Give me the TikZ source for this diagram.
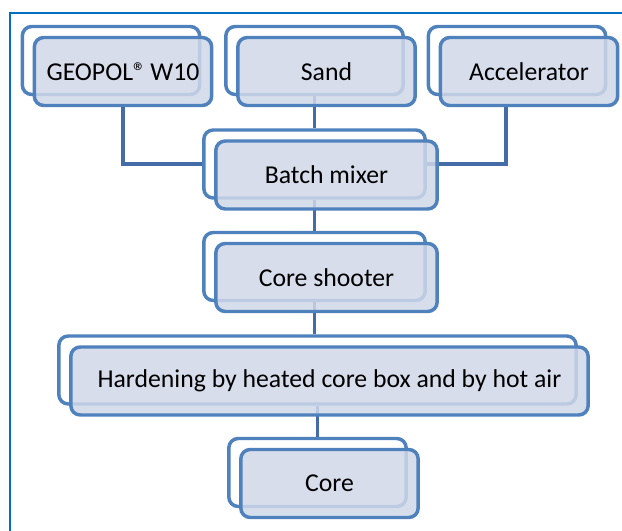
\documentclass[tikz,border=0pt]{standalone}
\usepackage{fontspec}
\setmainfont{Carlito}
\usetikzlibrary{calc,backgrounds}
\definecolor{boxblue}{RGB}{79,129,189}
\definecolor{boxfill}{RGB}{208,216,232}
\definecolor{linkblue}{RGB}{68,108,166}
\definecolor{frameblue}{RGB}{0,112,192}
\tikzset{
	backbox/.style={draw=boxblue, line width=2.6pt, fill=white, rounded corners=7pt, minimum width=133pt, minimum height=51pt, inner sep=0pt},
	frontbox/.style={backbox, fill=boxfill, fill opacity=0.85, text opacity=1, font=\fontsize{19.3pt}{23pt}\selectfont},
	link/.style={draw=linkblue, line width=2.4pt}
}

\begin{document}
\begin{tikzpicture}[x=0.75pt,y=0.75pt,yscale=-1,xscale=1]
	\useasboundingbox (0,0) rectangle (622,531);
	\draw [frameblue, line width=1.9pt]   (10,531) -- (10,13) -- (622,13) ;

	\node [frontbox] (geo) at (123,71.5) {GEOPOL®\,W10};
	\node [frontbox] (sand) at (326.5,71.5) {Sand};
	\node [frontbox] (acc) at (529,71.5) {Accelerator};
	\node [frontbox, minimum width=166pt] (mix) at (326.5,175) {Batch mixer};
	\node [frontbox, minimum width=166pt] (shoot) at (326.5,277.5) {Core shooter};
	\node [frontbox, minimum width=388pt] (hard) at (329.5,381) {Hardening by heated core box and by hot air};
	\node [frontbox] (core) at (329.5,483.5) {Core};

	\begin{pgfonlayer}{background}
	\node [backbox] (geoB) at ($(geo)+(-12,-11)$) {};
	\node [backbox] (sandB) at ($(sand)+(-12,-11)$) {};
	\node [backbox] (accB) at ($(acc)+(-12,-11)$) {};
	\node [backbox, minimum width=166pt] (mixB) at ($(mix)+(-12,-11)$) {};
	\node [backbox, minimum width=166pt] (shootB) at ($(shoot)+(-12,-11)$) {};
	\node [backbox, minimum width=388pt] (hardB) at ($(hard)+(-12,-11)$) {};
	\node [backbox] (coreB) at ($(core)+(-12,-11)$) {};

	\draw [link] (geo.south) |- (mixB.west) ;
	\draw [link] (sandB.south) -- (sandB.south |- mixB.north) ;
	\draw [link] (mixB.east) -| ($(acc.south)+(-23,0)$) ;
	\draw [link] (mixB.south) -- (shootB.north) ;
	\draw [link] (shootB.south) -- (shootB.south |- hardB.north) ;
	\draw [link] (hardB.south) -- (hardB.south |- coreB.north) ;
	\end{pgfonlayer}
\end{tikzpicture}
\end{document}
